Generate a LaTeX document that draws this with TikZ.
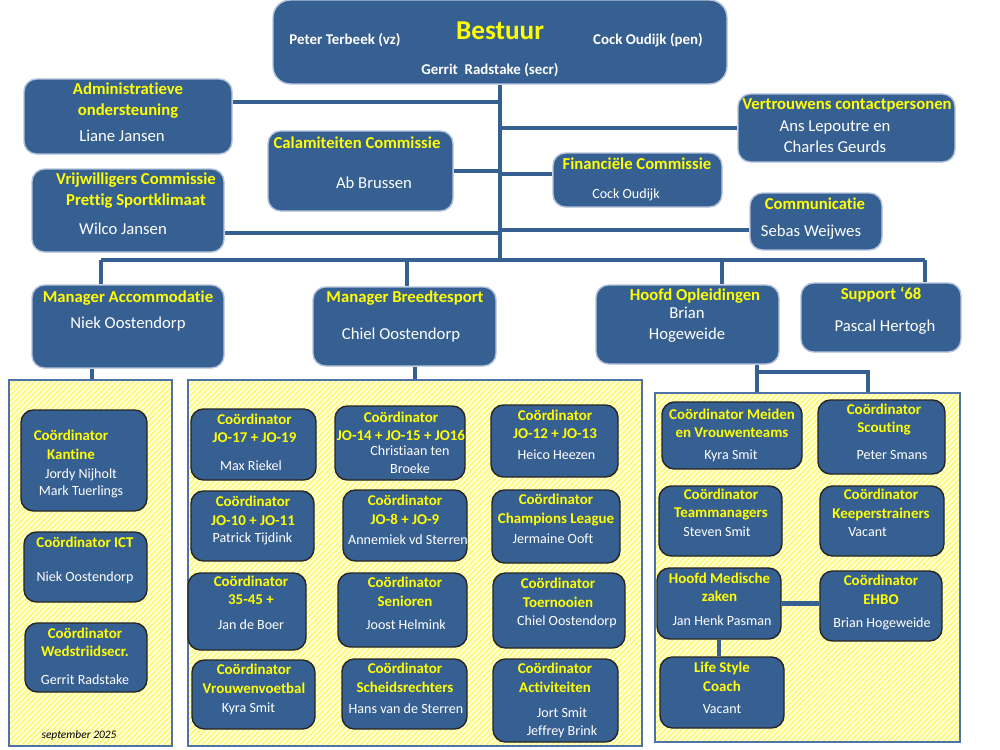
\documentclass[tikz,border=0pt]{standalone}
\usepackage{fontspec}
\setmainfont{Carlito}[Ligatures=NoCommon]
\usetikzlibrary{patterns.meta}

\definecolor{boxblue}{HTML}{376092}
\definecolor{boxedge}{HTML}{B4C4DC}
\definecolor{txtyellow}{HTML}{FFFF00}
\definecolor{panelline}{HTML}{4F72A8}
\definecolor{hatchbg}{HTML}{FFFFE6}
\definecolor{hatchline}{HTML}{FFFA6A}

\tikzset{
	sz/.style 2 args={minimum width=#1*0.02cm, minimum height=#2*0.02cm},
	topbox/.style={draw=boxedge, line width=0.8pt, fill=boxblue, rounded corners=0.25cm, inner sep=0pt},
	coordbox/.style={draw=black!85, line width=0.8pt, fill=boxblue, rounded corners=0.25cm, inner sep=0pt},
	panel/.style={draw=panelline, line width=1.3pt, preaction={fill=hatchbg}, pattern={Lines[angle=45,distance=2.2pt,line width=0.9pt]}, pattern color=hatchline, inner sep=0pt},
	bigtitle/.style={text=txtyellow, font=\fontsize{15.5}{18}\selectfont\bfseries, inner sep=0pt},
	bname/.style={text=white, font=\fontsize{8.5}{10}\selectfont\bfseries, inner sep=0pt},
	htitle/.style={text=txtyellow, font=\fontsize{9.5}{11.9}\selectfont\bfseries, align=center, inner sep=0pt},
	hname/.style={text=white, font=\fontsize{9.5}{11.9}\selectfont, align=center, inner sep=0pt},
	ctitle/.style={text=txtyellow, font=\fontsize{8.5}{10.5}\selectfont\bfseries, align=center, inner sep=0pt},
	cname/.style={text=white, font=\fontsize{8}{10}\selectfont, align=center, inner sep=0pt},
	link/.style={draw=boxblue, line width=2.3pt},
}

\begin{document}
\begin{tikzpicture}[x=0.02cm, y=-0.02cm]
			\useasboundingbox (0,0) rectangle (1000,750);
			
			% Bestuur
			\node[topbox, sz={454}{84}, rounded corners=0.35cm] (best) at (500,42) {};
			\node[bigtitle] (bestT) at (500,31) {Bestuur};
			\node[bname] (vz) at (345,40) {Peter Terbeek (vz)};
			\node[bname] (pen) at (648,40) {Cock Oudijk (pen)};
			\node[bname] (secr) at (490,70) {Gerrit\ \ Radstake (secr)};
			
			% Boxes next to the trunk
			\node[topbox, sz={208}{75}] (adm) at (128,116.5) {};
			\node[htitle] (admT) at (128,100.5) {Administratieve\\ondersteuning};
			\node[hname] (admN) at (122,136) {Liane Jansen};
			
			\node[topbox, sz={185}{80}] (cal) at (360.5,171) {};
			\node[htitle] (calT) at (357,143) {Calamiteiten Commissie};
			\node[hname] (calN) at (374,183) {Ab Brussen};
			
			\node[topbox, sz={192}{83}] (vrij) at (128,210.5) {};
			\node[htitle] (vrijT) at (136,190.5) {Vrijwilligers Commissie\\Prettig Sportklimaat};
			\node[hname] (vrijN) at (123,229) {Wilco Jansen};
			
			\node[topbox, sz={217}{68}] (vert) at (846.5,128) {};
			\node[htitle] (vertT) at (847,105) {Vertrouwens contactpersonen};
			\node[hname] (vertN) at (835,136.5) {Ans Lepoutre en\\Charles Geurds};
			
			\node[topbox, sz={169}{54}] (fin) at (637.5,180) {};
			\node[htitle] (finT) at (637,164) {Financiële Commissie};
			\node[cname] (finN) at (626,195) {Cock Oudijk};
			
			\node[topbox, sz={132}{57}] (comm) at (816,221.5) {};
			\node[htitle] (commT) at (815,204) {Communicatie};
			\node[hname] (commN) at (811,232) {Sebas Weijwes};
			
			% Managers
			\node[topbox, sz={192}{83}] (macc) at (128,326.5) {};
			\node[htitle] (maccT) at (128,298) {Manager Accommodatie};
			\node[hname] (maccN) at (128,324) {Niek Oostendorp};
			
			\node[topbox, sz={183}{79}] (mbreed) at (404.5,326.5) {};
			\node[htitle] (mbreedT) at (405,298) {Manager Breedtesport};
			\node[hname] (mbreedN) at (401,335) {Chiel Oostendorp};
			
			\node[topbox, sz={183}{79}] (hoofd) at (687.5,324.5) {};
			\node[htitle] (hoofdT) at (695,296) {Hoofd Opleidingen};
			\node[hname] (hoofdN) at (687,324.5) {Brian\\Hogeweide};
			
			\node[topbox, sz={160}{69}] (sup) at (881,317.5) {};
			\node[htitle] (supT) at (881,295) {Support ‘68};
			\node[hname] (supN) at (885,327) {Pascal Hertogh};
			
			% Panels
			\node[panel, sz={163}{366}] (panL) at (90.5,563) {};
			\node[panel, sz={454}{366}] (panM) at (415,563) {};
			\node[panel, sz={305}{349}] (panR) at (807.5,567.5) {};
			
			% Left panel
			\node[coordbox, sz={126}{101}] (kant) at (84,460.5) {};
			\node[ctitle] (kantT) at (71,445) {Coördinator\\Kantine};
			\node[cname] (kantN) at (81,483.5) {Jordy Nijholt\\Mark Tuerlings};
			
			\node[coordbox, sz={123}{70}] (ict) at (85.5,567) {};
			\node[ctitle] (ictT) at (85,542) {Coördinator ICT};
			\node[cname] (ictN) at (85,578) {Niek Oostendorp};
			
			\node[coordbox, sz={122}{69}] (weds) at (86,657.5) {};
			\node[ctitle] (wedsT) at (85,642.5) {Coördinator\\Wedstriidsecr.};
			\node[cname] (wedsN) at (85,680) {Gerrit Radstake};
			
			\node[font=\fontsize{6.5}{8}\selectfont\itshape, inner sep=0pt] (date) at (79,735) {september 2025};
			
			% Middle panel
			\node[coordbox, sz={125}{71}] (jo17) at (253.5,444.5) {};
			\node[ctitle] (jo17T) at (254.5,428.5) {Coördinator\\JO-17 + JO-19};
			\node[cname] (jo17N) at (251,466) {Max Riekel};
			
			\node[coordbox, sz={130}{74}] (jo14) at (400,443) {};
			\node[ctitle] (jo14T) at (401,426.5) {Coördinator\\JO-14 + JO-15 + JO16};
			\node[cname] (jo14N) at (410,459.5) {Christiaan ten\\Broeke};
			
			\node[coordbox, sz={127}{72}] (jo12) at (554.5,441) {};
			\node[ctitle] (jo12T) at (555,424.5) {Coördinator\\JO-12 + JO-13};
			\node[cname] (jo12N) at (556.5,455) {Heico Heezen};
			
			\node[coordbox, sz={123}{70}] (jo10) at (252.5,526) {};
			\node[ctitle] (jo10T) at (253,511) {Coördinator\\JO-10 + JO-11};
			\node[cname] (jo10N) at (252.5,539) {Patrick Tijdink};
			
			\node[coordbox, sz={124}{71}] (jo8) at (405,525.5) {};
			\node[ctitle] (jo8T) at (405,510) {Coördinator\\JO-8 + JO-9};
			\node[cname] (jo8N) at (408,540) {Annemiek vd Sterren};
			
			\node[coordbox, sz={128}{73}] (champ) at (556,526.5) {};
			\node[ctitle] (champT) at (556,510) {Coördinator\\Champions League};
			\node[cname] (champN) at (553,539) {Jermaine Ooft};
			
			\node[coordbox, sz={118}{77}] (vet) at (247,611.5) {};
			\node[ctitle] (vetT) at (251,590.5) {Coördinator\\35-45 +};
			\node[cname] (vetN) at (251,625) {Jan de Boer};
			
			\node[coordbox, sz={129}{74}] (sen) at (402.5,610) {};
			\node[ctitle] (senT) at (405,592) {Coördinator\\Senioren};
			\node[cname] (senN) at (406,625) {Joost Helmink};
			
			\node[coordbox, sz={132}{75}] (toern) at (559,610.5) {};
			\node[ctitle] (toernT) at (558,593) {Coördinator\\Toernooien};
			\node[cname] (toernN) at (567,622) {Chiel Oostendorp};
			
			\node[coordbox, sz={123}{69}] (vrouw) at (253.5,694.5) {};
			\node[ctitle] (vrouwT) at (254,679) {Coördinator\\Vrouwenvoetbal};
			\node[cname] (vrouwN) at (248.5,709) {Kyra Smit};
			
			\node[coordbox, sz={125}{70}] (scheids) at (404.5,694) {};
			\node[ctitle] (scheidsT) at (405,678) {Coördinator\\Scheidsrechters};
			\node[cname] (scheidsN) at (406,709) {Hans van de Sterren};
			
			\node[coordbox, sz={125}{83}] (activ) at (555.5,700.5) {};
			\node[ctitle] (activT) at (555,678) {Coördinator\\Activiteiten};
			\node[cname] (activN) at (562,723) {Jort Smit\\Jeffrey Brink};
			
			% Right panel
			\node[coordbox, sz={140}{67}] (meid) at (732,435.5) {};
			\node[ctitle] (meidT) at (732,423.5) {Coördinator Meiden\\en Vrouwenteams};
			\node[cname] (meidN) at (731,456) {Kyra Smit};
			
			\node[coordbox, sz={127}{74}] (scout) at (881.5,437) {};
			\node[ctitle] (scoutT) at (884,419.5) {Coördinator\\Scouting};
			\node[cname] (scoutN) at (892,455) {Peter Smans};
			
			\node[coordbox, sz={123}{70}] (team) at (720.5,521) {};
			\node[ctitle] (teamT) at (721,504.5) {Coördinator\\Teammanagers};
			\node[cname] (teamN) at (717,532) {Steven Smit};
			
			\node[coordbox, sz={124}{70}] (keep) at (882,521) {};
			\node[ctitle] (keepT) at (881,505) {Coördinator\\Keeperstrainers};
			\node[cname] (keepN) at (867.5,532) {Vacant};
			
			\node[coordbox, sz={124}{71}] (med) at (719,603.5) {};
			\node[ctitle] (medT) at (719.5,587.5) {Hoofd Medische\\zaken};
			\node[cname] (medN) at (722,621) {Jan Henk Pasman};
			
			\node[coordbox, sz={122}{70}] (ehbo) at (881,606) {};
			\node[ctitle] (ehboT) at (881,590) {Coördinator\\EHBO};
			\node[cname] (ehboN) at (882,624) {Brian Hogeweide};
			
			\node[coordbox, sz={124}{71}] (life) at (722,692.5) {};
			\node[ctitle] (lifeT) at (722,677) {Life Style\\Coach};
			\node[cname] (lifeN) at (722,709) {Vacant};
			
			% Trunk and bar
			\coordinate (hub) at (500,260);
			\coordinate (dropA) at (101,260);
			\coordinate (dropB) at (407,260);
			\coordinate (dropC) at (722,260);
			\coordinate (dropD) at (925,260);
			\draw[link] (best.south) -- (hub);
			\draw[link] (dropA) -- (dropD);
			
			\draw[link] (dropA) -- (dropA |- macc.north);
			\draw[link] (dropB) -- (dropB |- mbreed.north);
			\draw[link] (dropC) -- (dropC |- hoofd.north);
			\draw[link] (dropD) -- (dropD |- sup.north);
			
			\draw[link] ([yshift=0.29cm]adm.east) -| (hub);
			\draw[link] (cal.east) -| (hub);
			\draw[link] ([yshift=-0.45cm]vrij.east) -| (hub);
			\draw[link] (vert.west) -| (hub);
			\draw[link] ([yshift=0.12cm]fin.west) -| (hub);
			\draw[link] ([yshift=-0.17cm]comm.west) -| (hub);
			
			% Managers to panels
			\coordinate (dropL) at (92,372);
			\coordinate (dropM) at (415,372);
			\coordinate (splitW) at (757,372);
			\coordinate (splitE) at (868,372);
			\draw[link] (dropL |- macc.south) -- (dropL |- panL.north);
			\draw[link] (dropM |- mbreed.south) -- (dropM |- panM.north);
			\draw[link] (splitW |- hoofd.south) -- (splitW |- panR.north);
			\draw[link] (splitW) -- (splitE) -- (splitE |- panR.north);
			
			% Medical links
			\draw[link] (med.east) -- (med.east -| ehbo.west);
			\draw[link] (med.south) -- (med.south |- life.north);
		\end{tikzpicture}
\end{document}
